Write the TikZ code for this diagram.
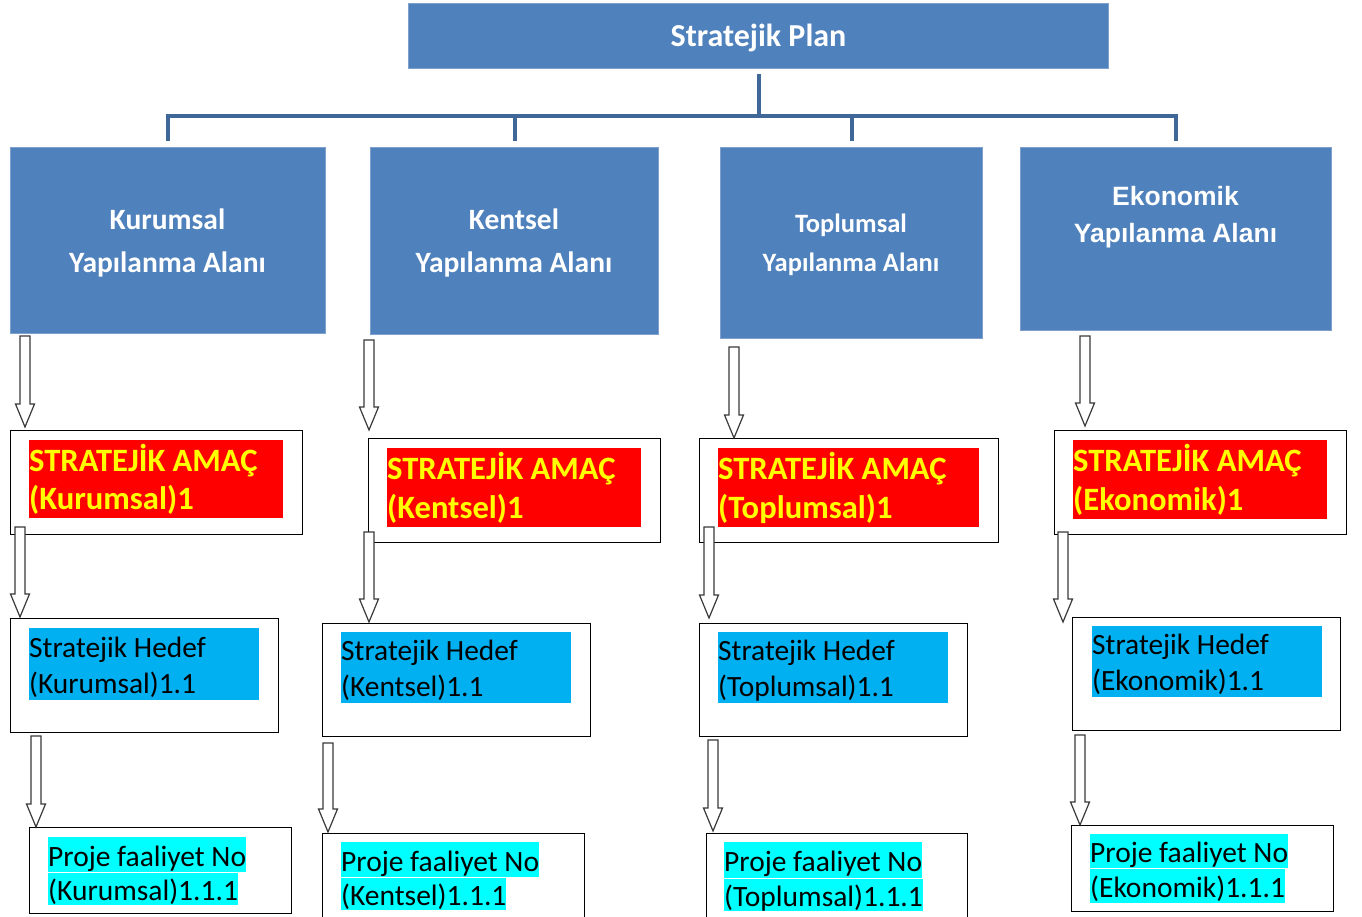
\documentclass[tikz,border=0pt]{standalone}
\usepackage{fontspec}
\setmainfont{Carlito}
\newfontfamily\arialfont{Liberation Sans}
\usetikzlibrary{calc}
\definecolor{hdrblue}{HTML}{4F81BD}
\definecolor{hdredge}{HTML}{7FA0CF}
\definecolor{connblue}{HTML}{3F6797}
\definecolor{hlblue}{HTML}{00B0F0}
\definecolor{hlcyan}{HTML}{00FFFF}
\definecolor{hlred}{HTML}{FF0000}
\definecolor{hlyellow}{HTML}{FFFF00}
\definecolor{arrgray}{HTML}{3A3A3A}
\tikzset{
  hdr/.style={fill=hdrblue, draw=hdredge, line width=1pt, inner sep=0pt, anchor=north west},
  htext/.style={text=white, align=center, inner sep=0pt, font=\bfseries\fontsize{29.5}{43}\selectfont},
  wbox/.style={draw=black, line width=1.3pt, fill=white, inner sep=0pt, anchor=north west},
  redhl/.style={fill=hlred, text=hlyellow, inner sep=0pt, anchor=north west, align=flush left, font=\bfseries\fontsize{32.6}{38.5}\selectfont},
  bluefill/.style={fill=hlblue, inner sep=0pt, anchor=north west},
  bluetxt/.style={text=black, inner sep=0pt, anchor=west, align=flush left, font=\fontsize{29.4}{36}\selectfont},
  cyanhl/.style={fill=hlcyan, text=black, inner sep=0pt, anchor=north west, text height=26.5pt, text depth=3pt, font=\fontsize{29.5}{35}\selectfont},
  conn/.style={draw=connblue, line width=4pt},
  barrow/.style={draw=arrgray, line width=1.2pt, fill=white, line join=miter},
}
% block arrow from top coordinate #1 to tip coordinate #2
\newcommand\blockarrow[2]{%
  \draw[barrow] let \p1=(#1), \p2=(#2) in
    (\x1-5pt,\y1) -- (\x1+5pt,\y1) -- (\x1+5pt,\y2+23pt) -- (\x1+9.5pt,\y2+23pt)
    -- (\x2,\y2) -- (\x1-9.5pt,\y2+23pt) -- (\x1-5pt,\y2+23pt) -- cycle;}
\begin{document}
\begin{tikzpicture}[x=1pt,y=-1pt]
\useasboundingbox (0,0) rectangle (1362,917);
\clip (0,0) rectangle (1362,917);
\fill[white] (0,0) rectangle (1362,917);

% top
\node[hdr, minimum width=700pt, minimum height=65pt] (plan) at (408,3) {};
\node[htext, font=\bfseries\fontsize{32}{38}\selectfont] (plant) at ([yshift=-2pt]plan.center) {Stratejik Plan};

% headers
\node[hdr, minimum width=315pt, minimum height=186pt] (h1) at (10,147) {};
\node[hdr, minimum width=288pt, minimum height=187pt] (h2) at (370,147) {};
\node[hdr, minimum width=262pt, minimum height=191pt] (h3) at (720,147) {};
\node[hdr, minimum width=311pt, minimum height=183pt] (h4) at (1020,147) {};
\node[htext] (h1t) at (167.5,242.5) {Kurumsal\\Yapılanma Alanı};
\node[htext] (h2t) at (514,242.5) {Kentsel\\Yapılanma Alanı};
\node[htext, font=\bfseries\fontsize{26.5}{39}\selectfont] (h3t) at (851,244.5) {Toplumsal\\Yapılanma Alanı};
\node[htext, font=\arialfont\bfseries\fontsize{26.5}{37}\selectfont] (h4t) at (1175.5,217.5) {Ekonomik\\Yapılanma Alanı};

% tree connectors
\coordinate (bus) at (0,116);
\draw[conn] ([yshift=-5pt]plan.south) -- (plan.south |- bus);
\draw[conn, line cap=rect] (h1.north |- bus) -- (h4.north |- bus);
\foreach \h in {h1,h2,h3,h4}{
  \draw[conn] (\h.north |- bus) -- ([yshift=6pt]\h.north);
}

% column 1
\node[wbox, minimum width=292pt, minimum height=104pt] (g1) at (10,430) {};
\node[redhl, text width=254pt, minimum height=78pt] (r1) at (29,440) {STRATEJİK AMAÇ\\(Kurumsal)1};
\node[wbox, minimum width=268pt, minimum height=114pt] (t1) at (10,618) {};
\node[bluefill, minimum width=230pt, minimum height=72pt] (b1) at (29,628) {};
\node[bluetxt] (b1t) at ([yshift=-3pt]b1.west) {Stratejik Hedef\\(Kurumsal)1.1};
\node[wbox, minimum width=262pt, minimum height=86pt] (p1) at (29,827) {};
\node[cyanhl, minimum height=35pt] (c1a) at (48,837) {Proje faaliyet No};
\node[cyanhl, minimum height=32pt] (c1b) at (c1a.south west) {(Kurumsal)1.1.1};

% column 2
\node[wbox, minimum width=292pt, minimum height=104pt] (g2) at (368,438) {};
\node[redhl, text width=254pt, minimum height=79pt] (r2) at (387,448) {STRATEJİK AMAÇ\\(Kentsel)1};
\node[wbox, minimum width=268pt, minimum height=113pt] (t2) at (322,623) {};
\node[bluefill, minimum width=230pt, minimum height=71pt] (b2) at (341,632) {};
\node[bluetxt] (b2t) at ([yshift=-3pt]b2.west) {Stratejik Hedef\\(Kentsel)1.1};
\node[wbox, minimum width=262pt, minimum height=100pt] (p2) at (322,833) {};
\node[cyanhl, minimum height=35pt] (c2a) at (341,842) {Proje faaliyet No};
\node[cyanhl, minimum height=32pt] (c2b) at (c2a.south west) {(Kentsel)1.1.1};

% column 3
\node[wbox, minimum width=299pt, minimum height=104pt] (g3) at (699,438) {};
\node[redhl, text width=261pt, minimum height=79pt] (r3) at (718,448) {STRATEJİK AMAÇ\\(Toplumsal)1};
\node[wbox, minimum width=268pt, minimum height=113pt] (t3) at (699,623) {};
\node[bluefill, minimum width=230pt, minimum height=71pt] (b3) at (718,632) {};
\node[bluetxt] (b3t) at ([yshift=-3pt]b3.west) {Stratejik Hedef\\(Toplumsal)1.1};
\node[wbox, minimum width=261pt, minimum height=100pt] (p3) at (706,833) {};
\node[cyanhl, minimum height=36pt] (c3a) at (724,842) {Proje faaliyet No};
\node[cyanhl, minimum height=32pt] (c3b) at (c3a.south west) {(Toplumsal)1.1.1};

% column 4
\node[wbox, minimum width=292pt, minimum height=104pt] (g4) at (1054,430) {};
\node[redhl, text width=254pt, minimum height=79pt] (r4) at (1073,440) {STRATEJİK AMAÇ\\(Ekonomik)1};
\node[wbox, minimum width=268pt, minimum height=113pt] (t4) at (1072,617) {};
\node[bluefill, minimum width=230pt, minimum height=71pt] (b4) at (1092,626) {};
\node[bluetxt] (b4t) at ([yshift=-3pt]b4.west) {Stratejik Hedef\\(Ekonomik)1.1};
\node[wbox, minimum width=262pt, minimum height=86pt] (p4) at (1071,825) {};
\node[cyanhl, minimum height=34pt] (c4a) at (1090,834) {Proje faaliyet No};
\node[cyanhl, minimum height=34pt] (c4b) at (c4a.south west) {(Ekonomik)1.1.1};

% arrow end points
\coordinate (a1s) at (25,336);   \coordinate (a1e) at (25,427);
\coordinate (b1s) at (20,527);   \coordinate (b1e) at (20,617);
\coordinate (d1s) at (36,736);   \coordinate (d1e) at (36,827);
\coordinate (a2s) at (369,340);  \coordinate (a2e) at (369,430);
\coordinate (b2s) at (369,532);  \coordinate (b2e) at (369,622);
\coordinate (d2s) at (328,743);  \coordinate (d2e) at (328,832);
\coordinate (a3s) at (734,347);  \coordinate (a3e) at (734,438);
\coordinate (b3s) at (709,527);  \coordinate (b3e) at (709,618);
\coordinate (d3s) at (713,740);  \coordinate (d3e) at (713,831);
\coordinate (a4s) at (1085,336); \coordinate (a4e) at (1085,426);
\coordinate (b4s) at (1063,532); \coordinate (b4e) at (1063,622);
\coordinate (d4s) at (1080,735); \coordinate (d4e) at (1080,825);
\foreach \c in {a1,b1,d1,a2,b2,d2,a3,b3,d3,a4,b4,d4}{\blockarrow{\c s}{\c e}}
\end{tikzpicture}
\end{document}
